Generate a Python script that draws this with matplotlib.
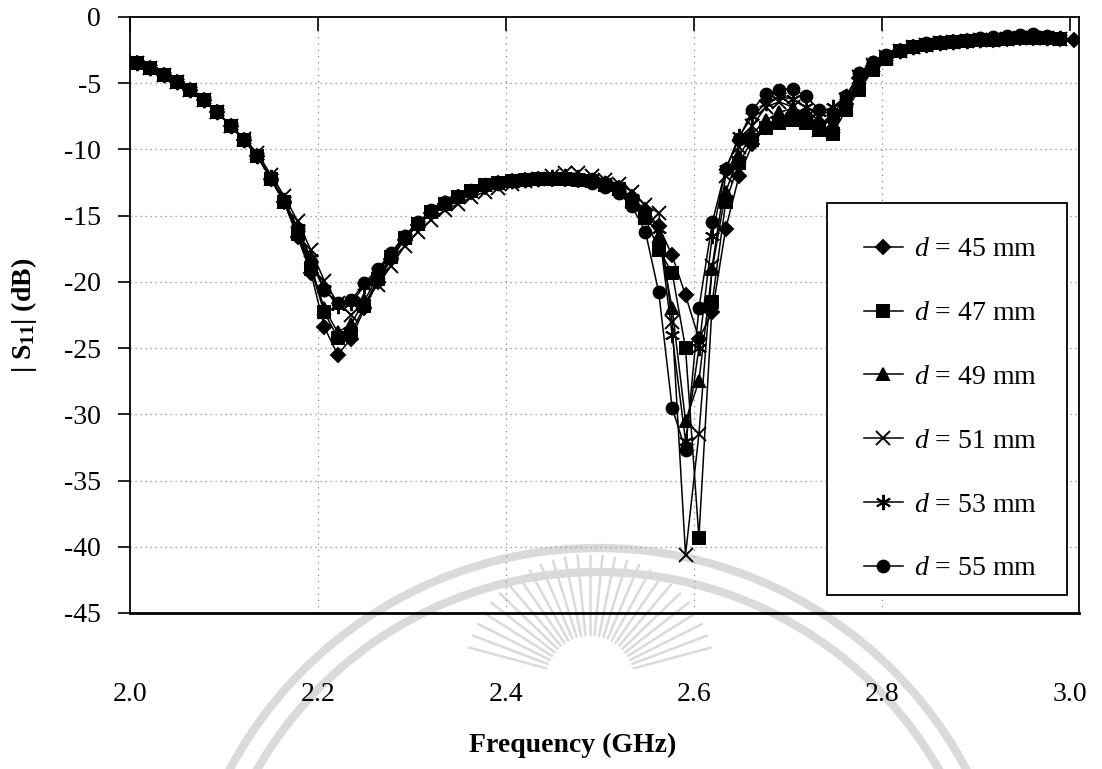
import numpy as np
import matplotlib.pyplot as plt
from matplotlib.patches import Arc, Rectangle

plt.rcParams['font.family'] = ['Liberation Serif', 'DejaVu Serif']
plt.rcParams['mathtext.fontset'] = 'custom'
plt.rcParams['mathtext.it'] = 'Liberation Serif:italic'
plt.rcParams['mathtext.rm'] = 'Liberation Serif:bold'
plt.rcParams['axes.unicode_minus'] = False

# frequency sweep (GHz), 71 points
freq = np.linspace(2.0074, 3.0038, 71)

nan = np.nan

s11_d45 = [-3.5, -3.85, -4.4, -4.9, -5.5, -6.3, -7.2, -8.2, -9.3, -10.5,
           -12.2, -14.0, -16.6, -19.3, -23.4, -25.5, -24.3, -22.0, -20.0, -18.3,
           -16.8, -15.7, -14.8, -14.1, -13.6, -13.2, -12.8, -12.5, -12.4, -12.3,
           -12.2, -12.2, -12.2, -12.3, -12.4, -12.6, -12.9, -13.6, -14.6, -15.8,
           -18.0, -21.0, -24.3, -22.3, -16.0, -12.0, -9.6, -8.3, -7.6, -7.3,
           -7.5, -8.0, -7.8, -6.6, -4.6, -3.7, -3.1, -2.6, -2.3, -2.1,
           -1.95, -1.85, -1.8, -1.75, -1.7, -1.65, -1.6, -1.55, -1.6, -1.65, -1.7]

s11_d47 = [-3.5, -3.85, -4.4, -4.9, -5.5, -6.3, -7.2, -8.2, -9.3, -10.5,
           -12.2, -14.0, -16.4, -19.0, -22.3, -24.2, -23.9, -21.8, -19.8, -18.1,
           -16.7, -15.6, -14.7, -14.1, -13.6, -13.1, -12.7, -12.5, -12.4, -12.3,
           -12.2, -12.2, -12.2, -12.3, -12.4, -12.7, -13.0, -14.0, -15.2, -17.6,
           -19.3, -25.0, -39.3, -21.5, -14.0, -11.0, -9.3, -8.4, -8.0, -7.8,
           -8.0, -8.5, -8.8, -7.0, -5.5, -4.0, -3.2, -2.6, -2.3, -2.1,
           -1.95, -1.85, -1.8, -1.75, -1.7, -1.65, -1.6, -1.55, -1.6, -1.65, nan]

s11_d49 = [-3.5, -3.85, -4.4, -4.9, -5.5, -6.3, -7.2, -8.2, -9.3, -10.5,
           -12.2, -14.0, -16.2, -18.8, -22.0, -23.8, -23.2, -21.4, -19.6, -18.0,
           -16.6, -15.6, -14.7, -14.0, -13.5, -13.1, -12.7, -12.5, -12.4, -12.3,
           -12.2, -12.2, -12.2, -12.3, -12.4, -12.6, -13.0, -13.9, -15.0, -16.5,
           -22.0, -30.5, -27.5, -19.0, -13.2, -10.5, -8.8, -7.8, -7.2, -6.9,
           -7.2, -7.8, -8.0, -6.8, -5.0, -3.8, -3.1, -2.6, -2.3, -2.1,
           -1.95, -1.85, -1.8, -1.75, -1.7, -1.65, -1.6, -1.55, -1.6, -1.65, nan]

s11_d51 = [-3.5, -3.85, -4.4, -4.9, -5.5, -6.3, -7.2, -8.2, -9.2, -10.3,
           -11.9, -13.5, -15.4, -17.6, -19.9, -21.6, -22.5, -21.6, -20.2, -18.8,
           -17.3, -16.2, -15.3, -14.6, -14.1, -13.6, -13.2, -12.9, -12.6, -12.4,
           -12.2, -12.0, -11.8, -11.8, -12.0, -12.3, -12.6, -13.2, -14.2, -14.8,
           -23.0, -40.6, -31.5, -18.8, -12.0, -9.8, -8.2, -6.8, -6.4, -6.8,
           -7.6, -8.5, -8.2, -6.3, -4.5, -3.6, -3.0, -2.6, -2.3, -2.1,
           -1.95, -1.85, -1.8, -1.75, -1.7, -1.65, -1.6, -1.55, -1.6, -1.65, nan]

s11_d53 = [-3.5, -3.85, -4.4, -4.9, -5.5, -6.3, -7.2, -8.2, -9.3, -10.5,
           -12.1, -13.8, -15.9, -18.2, -20.5, -21.8, -21.6, -20.3, -19.2, -17.9,
           -16.6, -15.6, -14.7, -14.1, -13.6, -13.1, -12.7, -12.5, -12.4, -12.3,
           -12.2, -12.1, -12.0, -12.1, -12.3, -12.5, -12.9, -13.7, -14.8, -16.0,
           -24.0, -32.0, -25.0, -16.5, -11.5, -9.0, -7.5, -6.5, -6.0, -6.2,
           -6.8, -7.2, -6.8, -6.0, -4.3, -3.5, -3.0, -2.6, -2.3, -2.1,
           -1.95, -1.85, -1.8, -1.7, -1.65, -1.6, -1.5, -1.5, -1.55, -1.6, nan]

s11_d55 = [-3.5, -3.85, -4.4, -4.9, -5.5, -6.3, -7.2, -8.2, -9.3, -10.5,
           -12.2, -13.9, -16.0, -18.5, -20.6, -21.6, -21.4, -20.1, -19.0, -17.8,
           -16.5, -15.5, -14.6, -14.0, -13.5, -13.1, -12.7, -12.5, -12.4, -12.3,
           -12.2, -12.2, -12.2, -12.3, -12.5, -12.8, -13.3, -14.3, -16.2, -20.8,
           -29.5, -32.7, -22.0, -15.5, -11.5, -9.2, -7.0, -5.8, -5.5, -5.4,
           -6.0, -7.0, -7.4, -6.0, -4.2, -3.4, -2.9, -2.5, -2.2, -2.0,
           -1.9, -1.8, -1.7, -1.6, -1.5, -1.45, -1.35, -1.3, -1.45, -1.6, nan]

labels = ['$d$ = 45 mm', '$d$ = 47 mm', '$d$ = 49 mm',
          '$d$ = 51 mm', '$d$ = 53 mm', '$d$ = 55 mm']
series = [s11_d45, s11_d47, s11_d49, s11_d51, s11_d53, s11_d55]
markers = ['D', 's', '^', 'x', (6, 2, 0), 'o']
msizes = [7, 8, 9, 10, 11, 8.5]

fig = plt.figure(figsize=(11.02, 7.69), dpi=100)

# faint seal in the background
bg = fig.add_axes([0, 0, 1, 1], zorder=0)
bg.set_xlim(0, 1102)
bg.set_ylim(769, 0)
bg.axis('off')
seal_col = '#dadada'
for r in (417, 393):
    bg.add_patch(Arc((598, 965), 2 * r, 2 * r, theta1=180, theta2=360,
                     color=seal_col, lw=6))
for ang in np.linspace(195, 345, 27):
    a = np.deg2rad(ang)
    bg.plot([590 + 45 * np.cos(a), 590 + 125 * np.cos(a)],
            [680 + 45 * np.sin(a), 680 + 125 * np.sin(a)],
            color=seal_col, lw=1.8, solid_capstyle='round')

ax = fig.add_axes([130 / 1102, 1 - 613 / 769, 949 / 1102, 596 / 769], zorder=1)
ax.patch.set_alpha(0)

for y, lab, m, ms in zip(series, labels, markers, msizes):
    ax.plot(freq, y, color='black', linewidth=1.1, marker=m, markersize=ms,
            markerfacecolor='black', markeredgecolor='black',
            markeredgewidth=1.4, label=lab)

ax.set_xlim(2.0, 3.0096)
ax.set_ylim(-45, 0)
ax.set_xticks([2.0, 2.2, 2.4, 2.6, 2.8, 3.0])
ax.set_xticklabels(['2.0', '2.2', '2.4', '2.6', '2.8', '3.0'])
ax.set_yticks(np.arange(-45, 1, 5))

ax.tick_params(axis='x', bottom=False, top=True, direction='in', length=10,
               width=1.2, labelsize=20, pad=50)
ax.tick_params(axis='y', left=True, direction='out', length=9, width=1.2,
               labelsize=20, pad=12)

for yv in range(-40, 0, 5):
    ax.axhline(yv, color='#888888', linestyle=(0, (1, 3)), linewidth=0.9, zorder=0)
for xv in [2.2, 2.4, 2.6, 2.8]:
    ax.axvline(xv, color='#888888', linestyle=(0, (1, 4)), linewidth=0.9, zorder=0)

for s in ax.spines.values():
    s.set_linewidth(1.3)
ax.spines['bottom'].set_linewidth(2.0)

fig.text(0.022, 1 - 315 / 769, '| S$_{11}$| (dB)', rotation=90, fontsize=20,
         fontweight='bold', ha='center', va='center')
fig.text(573 / 1102, 1 - 745 / 769, 'Frequency (GHz)', fontsize=20,
         fontweight='bold', ha='center', va='center')

# legend box
fig.patches.append(Rectangle((827 / 1102, 1 - 595 / 769), 240 / 1102, 392 / 769,
                             transform=fig.transFigure, facecolor='white',
                             edgecolor='black', linewidth=1.3, zorder=2))
leg = fig.legend(loc='upper left', bbox_to_anchor=(839 / 1102, 1 - 212 / 769),
                 frameon=False, fontsize=20, handlelength=1.4, handletextpad=0.4,
                 labelspacing=1.38, borderpad=0.4)
leg.set_zorder(3)

plt.savefig('out.png', dpi=100)
